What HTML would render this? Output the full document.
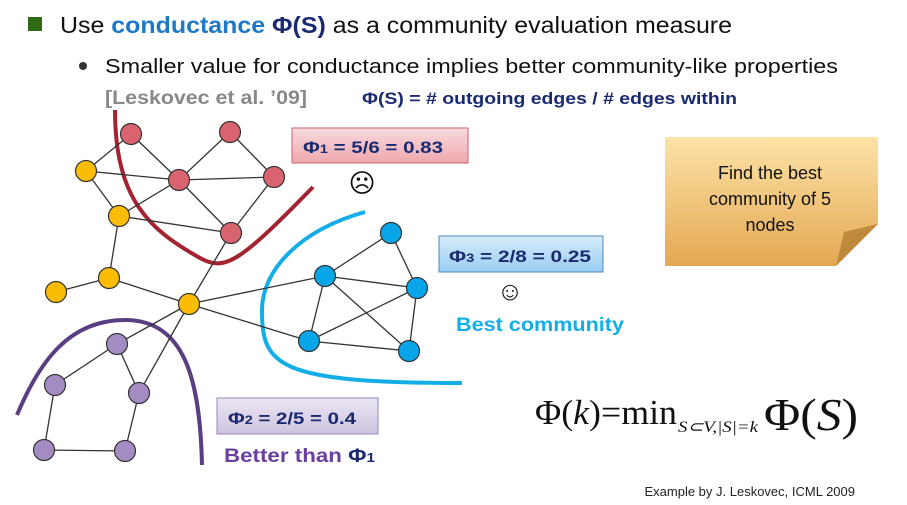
<!DOCTYPE html>
<html><head><meta charset="utf-8"><style>
body{margin:0;background:#fff;}
svg{display:block;font-family:"Liberation Sans","DejaVu Sans",sans-serif;}
</style></head><body>
<svg width="907" height="505" viewBox="0 0 907 505">
<defs>
<linearGradient id="gr" x1="0" y1="0" x2="0" y2="1"><stop offset="0" stop-color="#f8dadd"/><stop offset="1" stop-color="#eea8ae"/></linearGradient>
<linearGradient id="gb" x1="0" y1="0" x2="0" y2="1"><stop offset="0" stop-color="#d6ecfb"/><stop offset="1" stop-color="#99cdf0"/></linearGradient>
<linearGradient id="gp" x1="0" y1="0" x2="0" y2="1"><stop offset="0" stop-color="#ebe6f2"/><stop offset="1" stop-color="#cfc4e0"/></linearGradient>
<linearGradient id="gy" x1="0" y1="0" x2="0" y2="1"><stop offset="0" stop-color="#fde3a7"/><stop offset="1" stop-color="#e3a852"/></linearGradient>
</defs>
<rect x="28" y="17" width="14" height="14" fill="#2e6b16"/>
<text x="60" y="33" font-size="23" fill="#111" textLength="672" lengthAdjust="spacingAndGlyphs">Use <tspan fill="#1f78c8" font-weight="bold">conductance</tspan> <tspan fill="#1a2a70" font-weight="bold">Φ(S)</tspan> as a community evaluation measure</text>
<circle cx="83" cy="66" r="4" fill="#333"/>
<text x="105" y="73" font-size="20" fill="#111" textLength="733" lengthAdjust="spacingAndGlyphs">Smaller value for conductance implies better community-like properties</text>
<text x="105" y="104" font-size="19" fill="#888" font-weight="bold" textLength="202" lengthAdjust="spacingAndGlyphs">[Leskovec et al. ’09]</text>
<text x="362" y="104" font-size="17" fill="#1a2a70" font-weight="bold" textLength="375" lengthAdjust="spacingAndGlyphs">Φ(S) = # outgoing edges / # edges within</text>

<path d="M115 110 C115 200 150 230 200 258 C225 272 240 262 313 187" fill="none" stroke="#a32430" stroke-width="4"/>
<path d="M365 212 C300 230 262 270 262 310 C262 365 275 383 462 383" fill="none" stroke="#13aee8" stroke-width="4"/>
<path d="M17 415 C40 360 70 320 125 320 C185 320 200 380 202 465" fill="none" stroke="#5a3e82" stroke-width="4"/>

<g id="edges" stroke="#333" stroke-width="1.3"></g>
<g id="nodes" stroke="#333" stroke-width="1.2"></g>

<rect x="292" y="128" width="176" height="35" fill="url(#gr)" stroke="#c9626c"/>
<text x="303" y="153" font-size="17" font-weight="bold" fill="#1a2a70" textLength="140" lengthAdjust="spacingAndGlyphs">Φ<tspan font-size="12">1</tspan> = 5/6 = 0.83</text>
<text x="362" y="192" font-size="26" fill="#111" text-anchor="middle">☹</text>
<rect x="439" y="236" width="164" height="36" fill="url(#gb)" stroke="#4a88c0"/>
<text x="449" y="262" font-size="17" font-weight="bold" fill="#1a2a70" textLength="142" lengthAdjust="spacingAndGlyphs">Φ<tspan font-size="12">3</tspan> = 2/8 = 0.25</text>
<text x="510" y="300" font-size="26" fill="#111" text-anchor="middle">☺</text>
<text x="456" y="331" font-size="19" font-weight="bold" fill="#13aee8" textLength="168" lengthAdjust="spacingAndGlyphs">Best community</text>
<rect x="217" y="398" width="161" height="36" fill="url(#gp)" stroke="#9a86b8"/>
<text x="228" y="424" font-size="17" font-weight="bold" fill="#1a2a70" textLength="128" lengthAdjust="spacingAndGlyphs">Φ<tspan font-size="12">2</tspan> = 2/5 = 0.4</text>
<text x="224" y="462" font-size="19" font-weight="bold" fill="#6a3fa0" textLength="151" lengthAdjust="spacingAndGlyphs">Better than <tspan fill="#1a2a70">Φ<tspan font-size="13">1</tspan></tspan></text>

<path d="M665 137 H878 V224 L836 266 H665 Z" fill="url(#gy)"/>
<path d="M836 266 L844 232 L878 224 Z" fill="#c08a3c"/>
<text font-size="18" fill="#111" text-anchor="middle"><tspan x="770" y="179">Find the best</tspan><tspan x="770" y="205">community of 5</tspan><tspan x="770" y="231">nodes</tspan></text>

<g>
<text x="535" y="424" font-size="35" font-family="Liberation Serif, serif" fill="#111" textLength="142" lengthAdjust="spacingAndGlyphs">Φ(<tspan font-style="italic">k</tspan>)=min</text>
<text x="678" y="432" font-size="16" font-style="italic" font-family="Liberation Serif, serif" fill="#111" textLength="80" lengthAdjust="spacingAndGlyphs">S⊂V,|S|=k</text>
<text x="764" y="430" font-size="46" font-family="Liberation Serif, serif" fill="#111" textLength="94" lengthAdjust="spacingAndGlyphs">Φ(<tspan font-style="italic">S</tspan>)</text>
</g>
<text x="855" y="496" font-size="13" fill="#222" text-anchor="end">Example by J. Leskovec, ICML 2009</text>
</svg>
<script>
const nodeX = [131,230,179,274,231, 86,119,109,56,189, 391,325,417,309,409, 117,55,139,44,125];
const nodeY = [134,132,180,177,233, 171,216,278,292,304, 233,276,288,341,351, 344,385,393,450,451];
const nodeGroup = ['r','r','r','r','r','y','y','y','y','y','b','b','b','b','b','p','p','p','p','p'];
const edgeFrom = [0,5,0,2,1,2,2,3,5,6,6,6,7,7,4,9,9,9,9,11,10,11,11,11,13,12,13,15,15,16,17,18];
const edgeTo   = [5,2,2,1,3,3,4,4,6,2,4,7,8,9,9,17,11,13,15,10,12,12,13,14,12,14,14,16,17,18,19,19];
const colors = {r:'#d9646f',y:'#fbbc05',b:'#08a6e8',p:'#a38cc2'};
const NS='http://www.w3.org/2000/svg';
const eg=document.getElementById('edges'), ng=document.getElementById('nodes');
for(let i=0;i<edgeFrom.length;i++){
  const l=document.createElementNS(NS,'line');
  l.setAttribute('x1',nodeX[edgeFrom[i]]);l.setAttribute('y1',nodeY[edgeFrom[i]]);
  l.setAttribute('x2',nodeX[edgeTo[i]]);l.setAttribute('y2',nodeY[edgeTo[i]]);
  
  
  eg.appendChild(l);
}
for(let i=0;i<nodeX.length;i++){
  const c=document.createElementNS(NS,'circle');
  c.setAttribute('cx',nodeX[i]);c.setAttribute('cy',nodeY[i]);c.setAttribute('r',10.5);
  c.setAttribute('fill',colors[nodeGroup[i]]);
  
  
  ng.appendChild(c);
}
</script>
</body></html>
